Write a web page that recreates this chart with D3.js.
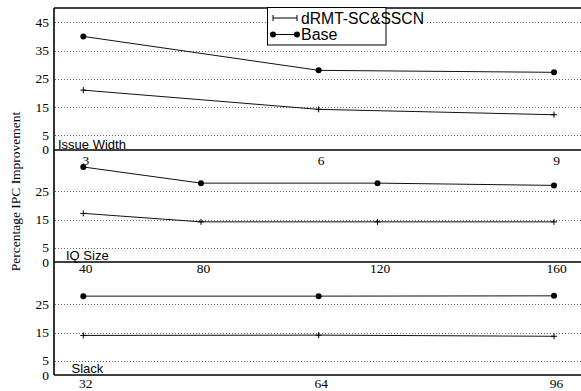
<!DOCTYPE html>
<html><head><meta charset="utf-8">
<script src="https://cdn.jsdelivr.net/npm/d3@7"></script>
<style>body{margin:0;background:#fff}svg{display:block}</style>
</head><body>
<script>
// ---- data ----
const seriesNames = ["dRMT-SC&SSCN", "Base"];
const issueWidth = [3, 6, 9];
const issueBase = [40.0, 28.0, 27.3];
const issueDrmt = [21.0, 14.2, 12.3];
const iqSize = [40, 80, 120, 160];
const iqBase = [33.6, 27.9, 27.9, 27.1];
const iqDrmt = [17.2, 14.2, 14.2, 14.2];
const slack = [32, 64, 96];
const slackBase = [27.9, 27.9, 28.0];
const slackDrmt = [14.0, 14.1, 13.7];
const yTicksTop = [0, 5, 15, 25, 35, 45];
const yTicksOther = [0, 5, 15, 25];
const panelTitles = ["Issue Width", "IQ Size", "Slack"];
const yLabel = "Percentage IPC Improvement";

const W = 581, H = 391;
const svg = d3.select("body").append("svg").attr("width", W).attr("height", H);
const left = 54, right = 584;
const ppu = 2.827;
const serif = "'Liberation Serif','Times New Roman',serif";
const sans = "'Liberation Sans',Arial,sans-serif";

const panels = [
  {title: panelTitles[0], xs: issueWidth, base: issueBase, drmt: issueDrmt, top: 8, zero: 149.5,
   x: d3.scaleLinear().domain([3, 9]).range([83.3, 554]), yt: yTicksTop, tx: 58, ty: 148.5, lb: 165},
  {title: panelTitles[1], xs: iqSize, base: iqBase, drmt: iqDrmt, top: 149.5, zero: 262,
   x: d3.scaleLinear().domain([40, 80, 160]).range([83.3, 201, 554]), yt: yTicksOther, tx: 66, ty: 259.5, lb: 272.5},
  {title: panelTitles[2], xs: slack, base: slackBase, drmt: slackDrmt, top: 262, zero: 375,
   x: d3.scaleLinear().domain([32, 96]).range([83.3, 554]), yt: yTicksOther, tx: 71.5, ty: 373, lb: 387.5}
];

panels.forEach(p => {
  p.y = d3.scaleLinear().domain([0, (p.zero - p.top) / ppu]).range([p.zero, p.top]);
  const g = svg.append("g");
  g.selectAll("line.grid").data(p.yt.filter(t => t > 0)).join("line")
    .attr("x1", left + 1).attr("x2", right)
    .attr("y1", d => Math.round(p.y(d)) + 0.5).attr("y2", d => Math.round(p.y(d)) + 0.5)
    .attr("stroke", "#666").attr("stroke-width", 1).attr("stroke-dasharray", "1,2");
  g.selectAll("text.yt").data(p.yt).join("text")
    .attr("x", 49).attr("y", d => p.y(d) + 4.5)
    .attr("text-anchor", "end").attr("font-family", serif).attr("font-size", 13.5)
    .text(d => d);
});

const lineGen = (p, vals) => d3.line().x((d, i) => p.x(p.xs[i])).y(d => p.y(d))(vals);

panels.forEach(p => {
  const g = svg.append("g");
  [p.base, p.drmt].forEach(vals => {
    g.append("path").attr("d", lineGen(p, vals)).attr("fill", "none")
      .attr("stroke", "#111").attr("stroke-width", 1);
  });
  g.selectAll("circle").data(p.base).join("circle")
    .attr("cx", (d, i) => p.x(p.xs[i])).attr("cy", d => p.y(d)).attr("r", 3).attr("fill", "#000");
  g.selectAll("path.plus").data(p.drmt).join("path")
    .attr("d", (d, i) => { const x = p.x(p.xs[i]), y = p.y(d);
      return `M${x - 3},${y}H${x + 3}M${x},${y - 3}V${y + 3}`; })
    .attr("stroke", "#000").attr("stroke-width", 1);
  g.selectAll("text.xt").data(p.xs).join("text")
    .attr("x", d => p.x(d) + 2.5).attr("y", p.lb)
    .attr("text-anchor", "middle").attr("font-family", serif).attr("font-size", 13.5)
    .text(d => d);
  g.append("text").attr("x", p.tx).attr("y", p.ty).attr("font-family", sans).attr("font-size", 13)
    .text(p.title);
});

[8, 149.5, 262, 375].forEach(y => {
  svg.append("line").attr("x1", left).attr("x2", right).attr("y1", Math.round(y)).attr("y2", Math.round(y))
    .attr("stroke", "#000").attr("stroke-width", 1.3);
});
svg.append("line").attr("x1", left).attr("x2", left).attr("y1", 8).attr("y2", 375)
  .attr("stroke", "#000").attr("stroke-width", 1.6);

svg.append("text").attr("transform", "translate(20,191.5) rotate(-90)")
  .attr("text-anchor", "middle").attr("font-family", serif).attr("font-size", 13.5)
  .text(yLabel);

// legend
const lg = svg.append("g");
lg.append("rect").attr("x", 386).attr("y", 12).attr("width", 40).attr("height", 13).attr("fill", "#fff");
lg.append("rect").attr("x", 267.5).attr("y", 7.5).attr("width", 118.5).attr("height", 37.5)
  .attr("fill", "#fff").attr("stroke", "#000").attr("stroke-width", 1);
const ly = [18, 34.5];
seriesNames.forEach((name, i) => {
  lg.append("line").attr("x1", 273).attr("x2", 297).attr("y1", ly[i]).attr("y2", ly[i])
    .attr("stroke", "#000").attr("stroke-width", 1);
  [273, 297].forEach(x => {
    if (i === 1) lg.append("circle").attr("cx", x).attr("cy", ly[i]).attr("r", 3).attr("fill", "#000");
    else lg.append("path").attr("d", `M${x},${ly[i] - 3}V${ly[i] + 3}`).attr("stroke", "#000");
  });
  const t = lg.append("text").attr("x", 301).attr("y", ly[i] + 5.5).attr("font-family", sans)
    .attr("font-size", 16).text(name);
  if (i === 0) t.attr("textLength", 123).attr("lengthAdjust", "spacingAndGlyphs");
});
</script>
</body></html>
